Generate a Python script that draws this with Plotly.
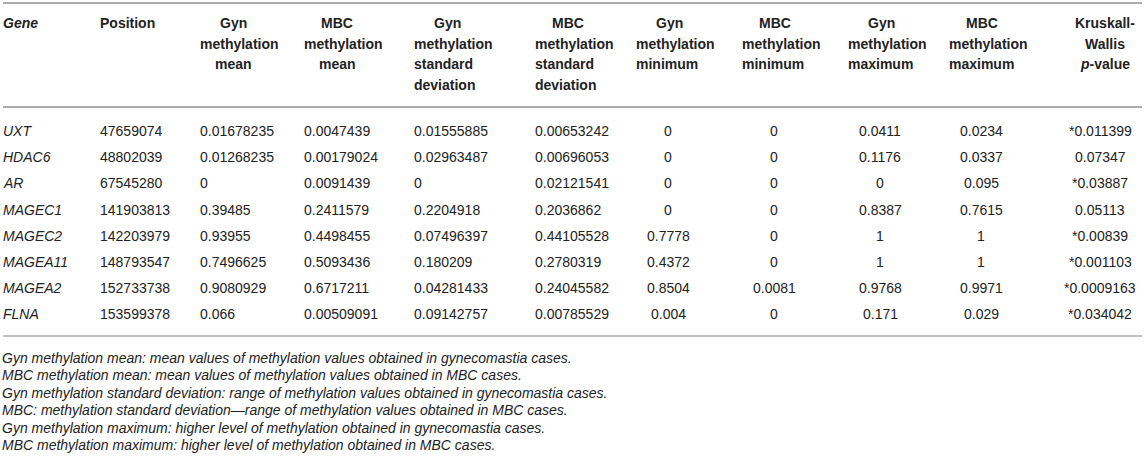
import plotly.graph_objects as go

# table data
genes = ["UXT", "HDAC6", "AR", "MAGEC1", "MAGEC2", "MAGEA11", "MAGEA2", "FLNA"]
positions = [47659074, 48802039, 67545280, 141903813, 142203979, 148793547, 152733738, 153599378]
gyn_mean = [0.01678235, 0.01268235, 0, 0.39485, 0.93955, 0.7496625, 0.9080929, 0.066]
mbc_mean = [0.0047439, 0.00179024, 0.0091439, 0.2411579, 0.4498455, 0.5093436, 0.6717211, 0.00509091]
gyn_sd = [0.01555885, 0.02963487, 0, 0.2204918, 0.07496397, 0.180209, 0.04281433, 0.09142757]
mbc_sd = [0.00653242, 0.00696053, 0.02121541, 0.2036862, 0.44105528, 0.2780319, 0.24045582, 0.00785529]
gyn_min = [0, 0, 0, 0, 0.7778, 0.4372, 0.8504, 0.004]
mbc_min = [0, 0, 0, 0, 0, 0, 0.0081, 0]
gyn_max = [0.0411, 0.1176, 0, 0.8387, 1, 1, 0.9768, 0.171]
mbc_max = [0.0234, 0.0337, 0.095, 0.7615, 1, 1, 0.9971, 0.029]
kw_p = [0.011399, 0.07347, 0.03887, 0.05113, 0.00839, 0.001103, 0.0009163, 0.034042]

headers = [
    ["Gene"],
    ["Position"],
    ["Gyn", "methylation", "mean"],
    ["MBC", "methylation", "mean"],
    ["Gyn", "methylation", "standard", "deviation"],
    ["MBC", "methylation", "standard", "deviation"],
    ["Gyn", "methylation", "minimum"],
    ["MBC", "methylation", "minimum"],
    ["Gyn", "methylation", "maximum"],
    ["MBC", "methylation", "maximum"],
    ["Kruskall-", "Wallis", "<i>p</i>-value"],
]

footnotes = [
    "Gyn methylation mean: mean values of methylation values obtained in gynecomastia cases.",
    "MBC methylation mean: mean values of methylation values obtained in MBC cases.",
    "Gyn methylation standard deviation: range of methylation values obtained in gynecomastia cases.",
    "MBC: methylation standard deviation\u2014range of methylation values obtained in MBC cases.",
    "Gyn methylation maximum: higher level of methylation obtained in gynecomastia cases.",
    "MBC methylation maximum: higher level of methylation obtained in MBC cases.",
]

p_text = [("*" if p < 0.05 else "") + str(p) for p in kw_p]
columns = [
    ["<i>%s</i>" % g for g in genes],
    [str(v) for v in positions],
    [str(v) for v in gyn_mean],
    [str(v) for v in mbc_mean],
    [str(v) for v in gyn_sd],
    [str(v) for v in mbc_sd],
    [str(v) for v in gyn_min],
    [str(v) for v in mbc_min],
    [str(v) for v in gyn_max],
    [str(v) for v in mbc_max],
    p_text,
]

# layout: value x, value anchor, header block x
col_layout = [
    (1, "left", 1),
    (98, "left", 98),
    (198, "left", 198),
    (302, "left", 302),
    (412, "left", 412),
    (533, "left", 533),
    (668, "center", 634),
    (774, "center", 740),
    (880, "center", 846),
    (981, "center", 947),
    (1100, "center", 1105),
]

FONT = "Liberation Sans, Arial, sans-serif"
TXT = "#222222"
FS = 14
head_y = [23, 44, 64, 85]
row_y0, row_dy = 131, 26.2
foot_y0, foot_dy = 358, 17.4

fig = go.Figure()

for ci, lines in enumerate(headers):
    vx, vanchor, hx = col_layout[ci]
    for li, line in enumerate(lines):
        if ci == 0:
            txt, x, anchor = "<b><i>%s</i></b>" % line, hx, "left"
        elif ci == 1:
            txt, x, anchor = "<b>%s</b>" % line, hx, "left"
        elif ci == 10:
            txt, x, anchor = "<b>%s</b>" % line, hx, "center"
        elif li == 0 or line == "mean":
            txt, x, anchor = "<b>%s</b>" % line, hx + 35, "center"
        else:
            txt, x, anchor = "<b>%s</b>" % line, hx, "left"
        fig.add_annotation(x=x, y=head_y[li], text=txt, showarrow=False,
                           xanchor=anchor, yanchor="middle",
                           font=dict(family=FONT, size=FS, color=TXT))

for ci, vals in enumerate(columns):
    vx, vanchor, hx = col_layout[ci]
    for ri, v in enumerate(vals):
        fig.add_annotation(x=vx, y=row_y0 + ri * row_dy, text=v, showarrow=False,
                           xanchor=vanchor, yanchor="middle",
                           font=dict(family=FONT, size=FS, color=TXT))

for fi, note in enumerate(footnotes):
    fig.add_annotation(x=0, y=foot_y0 + fi * foot_dy, text="<i>%s</i>" % note,
                       showarrow=False, xanchor="left", yanchor="middle",
                       font=dict(family=FONT, size=FS, color=TXT))

# rules
for y, w in [(3, 2), (107, 2), (336, 1.5)]:
    fig.add_shape(type="line", x0=3, x1=1142, y0=y, y1=y,
                  line=dict(color="#acacac", width=w))

fig.update_xaxes(range=[0, 1145], visible=False)
fig.update_yaxes(range=[464, 0], visible=False)
fig.update_layout(
    width=1145, height=464,
    margin=dict(l=0, r=0, t=0, b=0),
    plot_bgcolor="white", paper_bgcolor="white",
    showlegend=False,
)

# drop the default page margin so the figure sits at the window's corner
fig.write_html("out.html", config={"displayModeBar": False},
               post_script="document.body.style.margin='0';")
